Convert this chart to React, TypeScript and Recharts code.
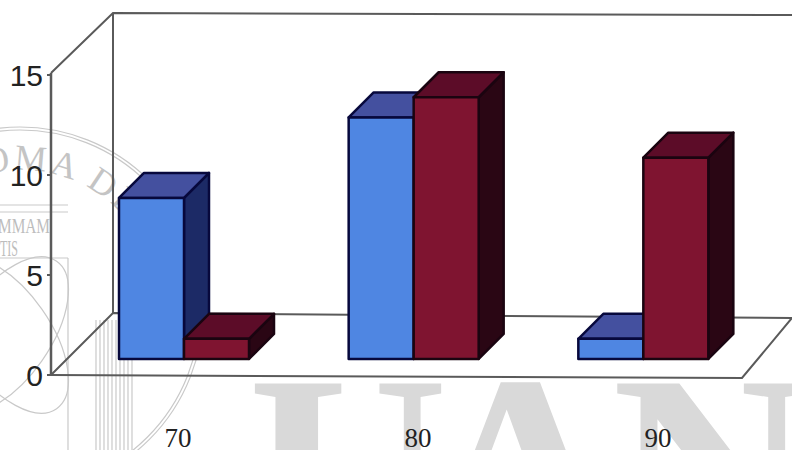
import React from 'react';
import { BarChart, Bar, XAxis, YAxis, Customized } from 'recharts';

const categories = ['70', '80', '90'];
const blueValues = [8, 12, 1];
const redValues = [1, 13, 10];
const yTicks = [0, 5, 10, 15];
const chartData = categories.map((c, i) => ({ category: c, blue: blueValues[i], red: redValues[i] }));

const DEPTH = 25;

const make3D = (front: string, top: string, side: string, edge: string) => (props: any) => {
  const { x, y, width, height } = props;
  const r = x + width;
  const b = y + height;
  const common = { stroke: edge, strokeWidth: 2.5, strokeLinejoin: 'round' as const };
  return (
    <g>
      <polygon points={`${r},${y} ${r + DEPTH},${y - DEPTH} ${r + DEPTH},${b - DEPTH} ${r},${b}`} fill={side} {...common} />
      <polygon points={`${x},${y} ${x + DEPTH},${y - DEPTH} ${r + DEPTH},${y - DEPTH} ${r},${y}`} fill={top} {...common} />
      <rect x={x} y={y} width={width} height={height} fill={front} {...common} />
    </g>
  );
};

const BlueShape = make3D('#4f86e2', '#44509f', '#1c2a66', '#07083c');
const RedShape = make3D('#7f1430', '#5c0c28', '#2a0614', '#1a0410');

const Frame = () => (
  <g fill="none" stroke="#5a5a5a" strokeWidth={2}>
    <polyline points="51,73 113,13 792,15" />
    <line x1={113} y1={13} x2={113} y2={313} />
    <line x1={51} y1={73} x2={51} y2={375} strokeWidth={2.5} />
    <polyline points="51,375 113,313 792,318" />
    <polyline points="51,375 742,378 792,318" />
  </g>
);

const Watermark = () => (
  <svg width={792} height={450} style={{ position: 'absolute', left: 0, top: 0 }}>
    <defs>
      <path id="seal-arc" d="M -120 310 A 140 140 0 0 1 160 310" />
    </defs>
    <text x="248 420 612" y={565} fontFamily="Liberation Serif" fontWeight="bold" fontSize={277} fill="#d9d9d9">UAN</text>
    <g fill="none" stroke="#c9c9c9" strokeWidth={1.2}>
      <circle cx={20} cy={310} r={183} />
      <circle cx={20} cy={310} r={180} />
      <ellipse cx={5} cy={335} rx={45} ry={90} transform="rotate(35 5 335)" />
      <ellipse cx={5} cy={335} rx={45} ry={90} transform="rotate(-35 5 335)" />
      <line x1={0} y1={205} x2={68} y2={205} />
      <line x1={0} y1={212} x2={68} y2={212} />
      <line x1={0} y1={258} x2={68} y2={258} />
      <line x1={68} y1={258} x2={68} y2={450} />
      {[96, 100, 104, 108, 112, 116, 120, 124, 128, 132].map((x) => (
        <line key={x} x1={x} y1={320} x2={x} y2={450} />
      ))}
    </g>
    <text fontFamily="Liberation Serif" fontSize={36} fill="#c4c4c4" letterSpacing={3}>
      <textPath href="#seal-arc" startOffset="42%">OMA DE NUEVO</textPath>
    </text>
    <text x={-2} y={233} fontFamily="Liberation Serif" fontSize={21} fill="#bdbdbd" textLength={52} lengthAdjust="spacingAndGlyphs">MMAM</text>
    <text x={0} y={256} fontFamily="Liberation Serif" fontSize={24} fill="#bdbdbd" textLength={18} lengthAdjust="spacingAndGlyphs">TIS</text>
  </svg>
);

export default function App() {
  return (
    <div style={{ position: 'absolute', left: 0, top: 0, width: 792, height: 450, background: '#fff', overflow: 'hidden' }}>
      <Watermark />
      <div style={{ position: 'absolute', left: 0, top: 0 }}>
        <BarChart
          width={792}
          height={450}
          data={chartData}
          margin={{ top: 57, right: 0, bottom: 0, left: 0 }}
          barSize={65}
          barGap={0}
        >
          <Customized component={Frame} />
          <XAxis
            xAxisId="labels"
            dataKey="category"
            height={75}
            padding={{ left: 7, right: 14 }}
            axisLine={false}
            tickLine={false}
            tickMargin={47}
            tick={{ fontFamily: 'Liberation Serif', fontSize: 27, fill: '#222' }}
          />
          <XAxis xAxisId="bars" dataKey="category" orientation="top" hide padding={{ left: 18, right: 34 }} />
          <YAxis
            yAxisId="labels"
            orientation="left"
            width={51}
            domain={[0, 15.9]}
            ticks={yTicks}
            allowDataOverflow
            axisLine={false}
            tickSize={4}
            tickMargin={4}
            tickLine={{ stroke: '#5a5a5a', strokeWidth: 2 }}
            tick={{ fontFamily: 'Liberation Sans', fontSize: 30, fill: '#222' }}
          />
          <YAxis yAxisId="bars" orientation="right" hide domain={[-0.8, 15]} allowDataOverflow />
          <Bar xAxisId="bars" yAxisId="bars" dataKey="blue" shape={BlueShape} isAnimationActive={false} />
          <Bar xAxisId="bars" yAxisId="bars" dataKey="red" shape={RedShape} isAnimationActive={false} />
        </BarChart>
      </div>
    </div>
  );
}
